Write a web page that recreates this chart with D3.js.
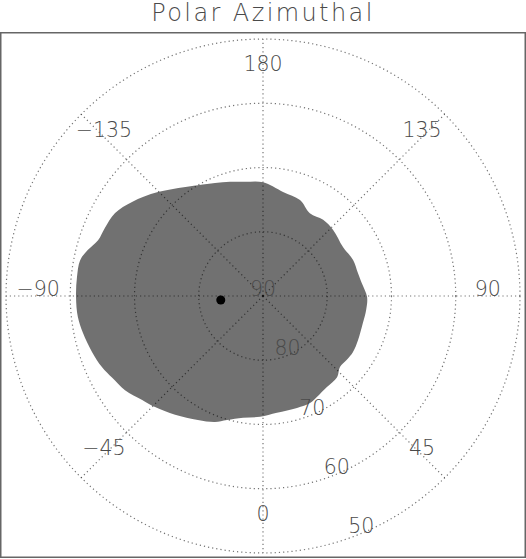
<!DOCTYPE html>
<html>
<head>
<meta charset="utf-8">
<script src="https://cdn.jsdelivr.net/npm/d3@7"></script>
<style>
  html, body { margin: 0; padding: 0; background: #fff; }
  svg { display: block; }
  text { font-family: "DejaVu Sans", sans-serif; font-weight: 200; fill: #4a4a4a; }
</style>
</head>
<body>
<svg id="chart" width="526" height="559"></svg>
<script>
// ---- data ----
const title = "Polar Azimuthal";
const lonTicks = [0, 45, 90, 135, 180, -135, -90, -45];
const latCircles = [80, 70, 60, 50];
const latLabels = [90, 80, 70, 60, 50];
const lonLabelLat = 55;
const latLabelLon = 22.5;
// boundary of shaded region (longitude, latitude in degrees)
const shapeLon = [180, 169.1, 158.9, 150.5, 141.7, 133.3, 121.5, 111.8, 103.6, 97.5,
  89.4, 82.3, 74.9, 65.2, 58.1, 52.7, 47.3, 42.4, 35.1, 28.1,
  23.7, 16.9, 6.8, -1.4, -9.3, -16.2, -20.9, -27.7, -36.5, -44.2,
  -49.3, -55.7, -61.5, -66.2, -71.9, -78.4, -83.5, -89.7, -95.8, -101.1,
  -104.7, -108.7, -113.3, -119.3, -125.7, -134.7, -149.6, -157, -163.9, -171];
const shapeLat = [72.3, 73.5, 74.0, 75.2, 74.9, 75.0, 75.4, 74.9, 74.8, 74.5,
  73.8, 73.8, 73.9, 73.7, 73.5, 73.6, 73.7, 72.9, 72.7, 72.2,
  71.8, 71.8, 71.7, 71.2, 70.8, 69.9, 69.0, 68.2, 67.0, 65.9,
  65.2, 64.0, 63.3, 62.6, 62.0, 61.4, 61.0, 60.9, 60.9, 61.0,
  61.8, 62.9, 63.2, 63.6, 64.9, 67.0, 70.0, 70.9, 71.5, 72.0];
const pointLon = [-84.6];
const pointLat = [83.4];

// ---- layout ----
const W = 526, H = 559;
const cx = 263, cy = 296;
const svg = d3.select("#chart");

const r = d3.scaleLinear().domain([90, 50]).range([0, 257]);
const rad = d3.scaleLinear().domain([0, 360]).range([0, 2 * Math.PI]);
const px = (lon, lat) => cx + r(lat) * Math.sin(rad(lon));
const py = (lon, lat) => cy + r(lat) * Math.cos(rad(lon));
const fmt = d3.format("d");

// title
svg.append("text")
  .attr("x", 263).attr("y", 21)
  .attr("text-anchor", "middle")
  .style("font-size", "24px")
  .style("letter-spacing", "2.4px")
  .text(title);

// frame
svg.append("rect")
  .attr("x", 0.75).attr("y", 32.75)
  .attr("width", 524.5).attr("height", 524.5)
  .attr("fill", "none").attr("stroke", "#666").attr("stroke-width", 1.5);

// shaded region
const pts = shapeLon.map((lon, i) => [px(lon, shapeLat[i]), py(lon, shapeLat[i])]);
svg.append("path")
  .attr("d", d3.line().curve(d3.curveCatmullRomClosed.alpha(0.5))(pts))
  .attr("fill", "#717171");

// dot
svg.selectAll("circle.pt").data(pointLon).join("circle")
  .attr("class", "pt")
  .attr("cx", (d, i) => px(d, pointLat[i]))
  .attr("cy", (d, i) => py(d, pointLat[i]))
  .attr("r", 4.5).attr("fill", "#000");

// grid
const grid = svg.append("g")
  .attr("fill", "none").attr("stroke", "#000").attr("stroke-opacity", 0.55)
  .attr("stroke-width", 1.2).attr("stroke-dasharray", "1.2,3");
grid.selectAll("circle").data(latCircles).join("circle")
  .attr("cx", cx).attr("cy", cy).attr("r", d => r(d));
grid.selectAll("line").data(lonTicks).join("line")
  .attr("x1", cx).attr("y1", cy)
  .attr("x2", d => px(d, d3.min(latCircles)))
  .attr("y2", d => py(d, d3.min(latCircles)));

// longitude labels
svg.selectAll("text.lon").data(lonTicks).join("text")
  .attr("class", "lon")
  .attr("x", d => px(d, lonLabelLat))
  .attr("y", d => py(d, lonLabelLat))
  .attr("text-anchor", "middle")
  .style("font-size", "20.5px")
  .text(d => fmt(d));

// latitude labels
svg.selectAll("text.lat").data(latLabels).join("text")
  .attr("class", "lat")
  .attr("x", d => px(latLabelLon, d))
  .attr("y", d => py(latLabelLon, d))
  .attr("text-anchor", "middle")
  .style("font-size", "20.5px")
  .text(d => fmt(d));
</script>
</body>
</html>
